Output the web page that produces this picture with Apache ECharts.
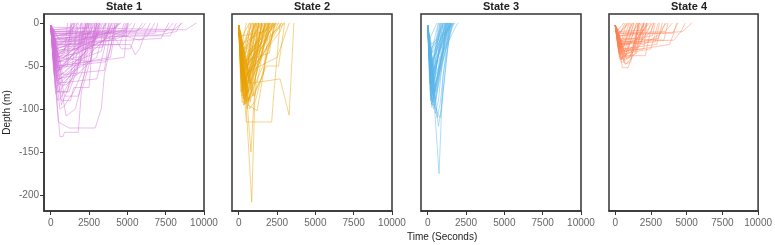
<!DOCTYPE html>
<html>
<head>
<meta charset="utf-8">
<script src="https://cdn.jsdelivr.net/npm/echarts@6/dist/echarts.min.js"></script>
<style>
    html, body { margin: 0; padding: 0; background: #fff; }
    #graph { width: 775px; height: 245px; }
</style>
</head>
<body>
<div id="graph"></div>
<script>
"use strict"

// dive profiles: [time (s), depth (m)]
const state1Dives = [
    [[0,-3],[200,-10],[1800,-8],[2000,0]],
    [[0,-3],[300,-15],[2200,-10],[2500,0]],
    [[0,-3],[250,-20],[2600,-12],[2800,0]],
    [[0,-3],[400,-25],[3000,-15],[3200,0]],
    [[0,-3],[350,-30],[3300,-12],[3600,0]],
    [[0,-3],[500,-35],[3800,-10],[4000,0]],
    [[0,-3],[450,-40],[4200,-8],[4400,0]],
    [[0,-3],[600,-45],[4600,-10],[4800,0]],
    [[0,-3],[300,-50],[1500,-30],[1700,0]],
    [[0,-3],[500,-55],[2000,-25],[2300,0]],
    [[0,-3],[700,-60],[2500,-30],[2700,0]],
    [[0,-3],[600,-65],[3000,-40],[3300,-20],[3500,0]],
    [[0,-3],[800,-70],[1900,-50],[2400,0]],
    [[0,-3],[500,-80],[1200,-80],[2100,-35],[2400,0]],
    [[0,-3],[900,-85],[1800,-85],[2500,-40],[3000,0]],
    [[0,-3],[700,-95],[1500,-60],[2000,0]],
    [[0,-3],[1000,-108],[1600,-100],[2200,-60],[2600,0]],
    [[0,-3],[600,-132],[800,-132],[900,-127],[1800,-127],[2000,-80],[2800,-30],[3000,0]],
    [[0,-3],[500,-115],[1200,-122],[2900,-122],[3300,-100],[3500,-60],[4000,-20],[4200,0]],
    [[0,-3],[400,-80],[1100,-80],[1400,-50],[1800,0]],
    [[0,-3],[200,-20],[5000,-15],[5400,-5],[5500,0]],
    [[0,-3],[400,-25],[5200,-25],[5500,-37],[5800,-30],[6200,-10],[6500,0]],
    [[0,-3],[300,-12],[6800,-12],[7000,0]],
    [[0,-3],[500,-18],[6000,-15],[7800,-15],[8200,0]],
    [[0,-3],[300,-10],[8000,-8],[8600,0]],
    [[0,-3],[200,-5],[8800,-8],[9500,0]],
    [[0,-3],[600,-20],[4200,-18],[4600,-30],[5200,-30],[5600,-10],[6000,0]],
    [[0,-3],[400,-45],[1000,-45],[1200,-20],[1400,0]],
    [[0,-3],[300,-35],[900,-35],[1100,0]],
    [[0,-3],[500,-40],[2600,-45],[2800,-20],[3000,0]],
    [[0,-3],[800,-60],[3500,-55],[3800,-20],[4100,0]],
    [[0,-3],[350,-30],[1300,-25],[1500,0]],
    [[0,-3],[700,-50],[3900,-40],[4300,0]],
    [[0,-3],[450,-65],[1700,-60],[2000,-20],[2200,0]],
    [[0,-3],[250,-28],[4500,-25],[4800,-10],[5000,0]],
    [[0,-3],[600,-72],[1000,-72],[2600,-45],[2900,0]],
    [[0,-3],[300,-15],[1200,-12],[1400,0]],
    [[0,-3],[350,-22],[2000,-20],[2100,0]],
    [[0,-3],[550,-33],[3400,-28],[3600,0]],
    [[0,-3],[400,-50],[4800,-40],[5000,0]],
    [[0,-3],[700,-90],[1300,-90],[1500,-75],[2500,-75],[2700,-30],[3200,0]],
    [[0,-3],[300,-40],[1800,-35],[2000,0]],
    [[0,-3],[250,-18],[3700,-15],[3900,0]],
    [[0,-3],[600,-55],[1100,-50],[1300,0]],
    [[0,-3],[200,-8],[2400,-6],[2600,0]],
    [[0,-3],[500,-25],[4000,-20],[4800,-15],[5000,-5],[5300,0]],
    [[0,-3],[450,-70],[3000,-65],[3500,-30],[3800,0]],
    [[0,-3],[200,-12],[7500,-10],[8000,0]],
    [[0,-3],[150,-40],[600,-35],[1500,-20],[2200,-8],[2400,0]],
    [[0,-3],[200,-60],[800,-50],[1800,-30],[2600,-10],[2900,0]],
    [[0,-3],[300,-75],[900,-65],[2000,-40],[3000,-15],[3300,0]],
    [[0,-3],[150,-30],[1000,-20],[1600,0]],
    [[0,-3],[250,-48],[1200,-35],[2400,-15],[2700,0]],
    [[0,-3],[200,-25],[1500,-18],[3000,-8],[3200,0]],
    [[0,-3],[350,-58],[1400,-42],[2800,-20],[3400,-5],[3700,0]],
    [[0,-3],[400,-68],[1600,-50],[3200,-25],[4200,-5],[4400,0]],
    [[0,-3],[180,-35],[2000,-22],[3800,-10],[4600,0]],
    [[0,-3],[120,-20],[900,-15],[1800,0]],
    [[0,-3],[220,-42],[700,-38],[1300,-15],[1600,0]],
    [[0,-3],[300,-52],[1100,-45],[1900,-25],[2300,0]],
    [[0,-3],[260,-62],[900,-58],[2200,-35],[3100,0]],
    [[0,-3],[320,-82],[700,-76],[1700,-50],[2800,-25],[3400,0]],
    [[0,-3],[100,-12],[3000,-12],[4300,-5],[4500,0]],
    [[0,-3],[150,-18],[2700,-15],[4900,-8],[5100,0]],
    [[0,-3],[200,-32],[2500,-28],[3500,-20],[4000,0]],
    [[0,-3],[400,-45],[2200,-38],[2500,0]],
    [[0,-3],[280,-38],[1600,-30],[2900,-20],[3100,0]],
    [[0,-3],[350,-26],[3600,-22],[4700,-12],[4900,0]],
    [[0,-3],[100,-8],[1200,-6],[1500,0]],
    [[0,-3],[450,-90],[600,-88],[1200,-70],[1900,-45],[2300,0]],
    [[0,-3],[600,-100],[900,-96],[1500,-80],[2100,-55],[2500,0]],
    [[0,-3],[250,-15],[4200,-12],[5800,-20],[6300,-15],[6800,0]],
    [[0,-3],[300,-10],[5500,-10],[6000,-5],[6200,0]],
    [[0,-3],[300,-22],[5000,-20],[7200,-18],[7700,0]],
    [[0,-3],[200,-14],[7000,-14],[8200,-10],[8500,0]],
    [[0,-3],[230,-55],[1000,-48],[3300,-33],[3800,0]],
    [[0,-3],[170,-45],[800,-40],[2600,-28],[2900,0]],
    [[0,-3],[380,-52],[3600,-45],[3900,-30],[4200,0]]
];
const state2Dives = [
    [[0,-3],[200,-60],[800,0]],
    [[0,-3],[300,-80],[1000,0]],
    [[0,-3],[250,-70],[1200,0]],
    [[0,-3],[400,-90],[1400,0]],
    [[0,-3],[350,-75],[1600,0]],
    [[0,-3],[500,-85],[1800,0]],
    [[0,-3],[450,-65],[2000,0]],
    [[0,-3],[600,-80],[2200,0]],
    [[0,-3],[300,-55],[2400,0]],
    [[0,-3],[700,-70],[2600,0]],
    [[0,-3],[500,-50],[2800,0]],
    [[0,-3],[400,-40],[3000,0]],
    [[0,-3],[150,-30],[900,0]],
    [[0,-3],[200,-45],[1100,0]],
    [[0,-3],[350,-95],[1300,0]],
    [[0,-3],[550,-100],[1500,0]],
    [[0,-3],[400,-70],[850,-208],[1100,-60],[1700,0]],
    [[0,-3],[500,-80],[800,-150],[1000,-90],[1900,0]],
    [[0,-3],[500,-115],[2150,-115],[2300,-80],[2700,0]],
    [[0,-3],[600,-95],[1200,-102],[1600,-60],[2200,0]],
    [[0,-3],[800,-70],[2700,-65],[3290,-107],[3600,0]],
    [[0,-3],[300,-60],[2500,-40],[3300,0]],
    [[0,-3],[1000,-85],[1800,-50],[2600,-50],[3000,0]],
    [[0,-3],[250,-35],[1500,0]],
    [[0,-3],[100,-20],[700,0]],
    [[0,-3],[450,-78],[1700,0]],
    [[0,-3],[650,-90],[2100,0]],
    [[0,-3],[200,-50],[1900,0]],
    [[0,-3],[380,-68],[2300,0]],
    [[0,-3],[150,-25],[2500,0]],
    [[0,-3],[700,-100],[1100,-90],[2400,0]],
    [[0,-3],[300,-88],[1200,0]],
    [[0,-3],[900,-85],[1600,-60],[2000,0]],
    [[0,-3],[550,-60],[1000,0]],
    [[0,-3],[400,-30],[600,-20],[800,0]],
    [[0,-3],[300,-72],[2800,0]],
    [[0,-3],[200,-15],[1700,-10],[2000,0]],
    [[0,-3],[500,-55],[1300,0]],
    [[0,-3],[750,-92],[1500,0]],
    [[0,-3],[350,-48],[2100,0]],
    [[0,-3],[180,-85],[600,-80],[1300,0]],
    [[0,-3],[120,-55],[700,0]],
    [[0,-3],[220,-92],[900,-85],[1700,0]],
    [[0,-3],[160,-65],[1100,0]],
    [[0,-3],[260,-82],[1900,0]],
    [[0,-3],[300,-95],[700,-90],[1500,0]],
    [[0,-3],[140,-45],[1400,0]],
    [[0,-3],[200,-75],[1600,-10],[1800,0]],
    [[0,-3],[250,-60],[2200,0]],
    [[0,-3],[100,-30],[1200,0]],
    [[0,-3],[320,-88],[1000,-70],[2000,0]],
    [[0,-3],[420,-94],[1100,0]],
    [[0,-3],[180,-40],[2600,0]],
    [[0,-3],[230,-68],[2700,-10],[2900,0]],
    [[0,-3],[280,-78],[800,-60],[1500,0]],
    [[0,-3],[350,-85],[1200,-40],[2300,0]],
    [[0,-3],[110,-35],[500,0]],
    [[0,-3],[500,-92],[900,-60],[1300,0]],
    [[0,-3],[160,-58],[1800,0]],
    [[0,-3],[240,-50],[1000,-30],[1600,0]],
    [[0,-3],[600,-90],[1700,-45],[2400,0]],
    [[0,-3],[380,-62],[1400,-40],[2000,0]],
    [[0,-3],[200,-70],[500,-65],[900,0]],
    [[0,-3],[150,-80],[1000,0]],
    [[0,-3],[300,-45],[2000,-35],[2300,0]]
];
const state3Dives = [
    [[0,-3],[150,-40],[700,0]],
    [[0,-3],[200,-60],[900,0]],
    [[0,-3],[250,-80],[1100,0]],
    [[0,-3],[300,-95],[500,-95],[1200,0]],
    [[0,-3],[200,-70],[1300,0]],
    [[0,-3],[350,-85],[1400,0]],
    [[0,-3],[400,-100],[1500,0]],
    [[0,-3],[300,-50],[1600,0]],
    [[0,-3],[300,-60],[740,-175],[1000,-60],[1600,0]],
    [[0,-3],[500,-105],[700,-90],[1200,0]],
    [[0,-3],[150,-30],[1800,0]],
    [[0,-3],[450,-75],[1700,0]],
    [[0,-3],[250,-45],[1000,0]],
    [[0,-3],[350,-65],[800,0]],
    [[0,-3],[600,-110],[800,-95],[1400,0]],
    [[0,-3],[100,-20],[600,0]],
    [[0,-3],[400,-55],[1900,-2],[2000,0]],
    [[0,-3],[200,-90],[1000,0]],
    [[0,-3],[550,-80],[1300,0]],
    [[0,-3],[300,-35],[1500,0]],
    [[0,-3],[700,-120],[900,-100],[1450,0]],
    [[0,-3],[450,-60],[1150,0]],
    [[0,-3],[250,-25],[1700,0]],
    [[0,-3],[180,-50],[1250,0]],
    [[0,-3],[500,-90],[1350,0]],
    [[0,-3],[120,-70],[800,0]],
    [[0,-3],[180,-90],[400,-92],[1100,0]],
    [[0,-3],[250,-95],[1300,0]],
    [[0,-3],[140,-55],[1200,0]],
    [[0,-3],[220,-88],[1500,0]],
    [[0,-3],[160,-65],[1450,0]],
    [[0,-3],[280,-98],[900,0]],
    [[0,-3],[110,-40],[1100,0]],
    [[0,-3],[330,-90],[1600,0]],
    [[0,-3],[200,-78],[700,0]],
    [[0,-3],[260,-60],[1350,0]],
    [[0,-3],[300,-82],[1000,0]],
    [[0,-3],[400,-95],[800,-110],[1000,-80],[1500,0]],
    [[0,-3],[150,-48],[1550,0]],
    [[0,-3],[230,-72],[1200,0]],
    [[0,-3],[350,-70],[1650,0]],
    [[0,-3],[190,-85],[850,0]],
    [[0,-3],[420,-88],[1250,0]],
    [[0,-3],[130,-35],[1000,0]],
    [[0,-3],[270,-93],[1400,0]]
];
const state4Dives = [
    [[0,-3],[300,-30],[1000,0]],
    [[0,-3],[400,-35],[1200,0]],
    [[0,-3],[500,-40],[1400,-30],[1600,0]],
    [[0,-3],[600,-45],[1800,-25],[2000,0]],
    [[0,-3],[500,-52],[900,-52],[1300,-30],[2200,0]],
    [[0,-3],[200,-15],[1500,-12],[1700,0]],
    [[0,-3],[250,-10],[2300,-8],[2500,0]],
    [[0,-3],[350,-20],[2600,-15],[2800,0]],
    [[0,-3],[450,-25],[2800,-22],[3100,0]],
    [[0,-3],[700,-38],[2100,-38],[2400,-15],[2700,0]],
    [[0,-3],[300,-18],[3400,-20],[3700,0]],
    [[0,-3],[400,-12],[4000,-12],[4400,0]],
    [[0,-3],[500,-22],[4100,-20],[4600,-10],[4900,0]],
    [[0,-3],[300,-15],[4700,-10],[5370,0]],
    [[0,-3],[600,-28],[1100,0]],
    [[0,-3],[800,-42],[1500,-35],[1900,0]],
    [[0,-3],[350,-25],[800,0]],
    [[0,-3],[200,-8],[600,0]],
    [[0,-3],[450,-32],[1300,-28],[2000,0]],
    [[0,-3],[700,-48],[1100,-45],[1600,0]],
    [[0,-3],[300,-20],[2000,-25],[3200,-12],[3500,0]],
    [[0,-3],[550,-36],[2500,-30],[3000,0]],
    [[0,-3],[250,-12],[900,0]],
    [[0,-3],[400,-28],[1700,0]],
    [[0,-3],[650,-40],[2300,0]],
    [[0,-3],[150,-20],[500,-25],[1200,0]],
    [[0,-3],[200,-28],[900,-30],[1500,0]],
    [[0,-3],[250,-35],[700,-38],[1300,0]],
    [[0,-3],[300,-42],[1000,-40],[1800,0]],
    [[0,-3],[180,-22],[1000,-25],[2100,0]],
    [[0,-3],[220,-30],[1400,-20],[2400,0]],
    [[0,-3],[350,-38],[600,-44],[1500,0]],
    [[0,-3],[400,-45],[800,-47],[1400,-35],[2000,0]],
    [[0,-3],[120,-15],[1000,0]],
    [[0,-3],[260,-25],[1900,-18],[2200,0]],
    [[0,-3],[300,-33],[1200,-30],[2500,-10],[2700,0]],
    [[0,-3],[500,-30],[2900,-25],[3300,0]],
    [[0,-3],[320,-40],[1100,-38],[1700,0]],
    [[0,-3],[170,-18],[700,0]],
    [[0,-3],[280,-36],[1600,-28],[2600,0]],
    [[0,-3],[450,-43],[1300,0]],
    [[0,-3],[230,-26],[3000,-18],[3300,-5],[3600,0]],
    [[0,-3],[380,-34],[3800,-25],[4100,-12],[4300,0]],
    [[0,-3],[200,-12],[3500,-10],[4000,0]],
    [[0,-3],[600,-32],[2000,-30],[2200,0]]
];
const stateNames = ["State 1", "State 2", "State 3", "State 4"];
const stateColors = ["#D070D6", "#E69F00", "#56B4E9", "#FF7F50"];
const xTicks = [0, 2500, 5000, 7500, 10000];
const yTicks = [0, -50, -100, -150, -200];

const allDives = [state1Dives, state2Dives, state3Dives, state4Dives];
const panelLeft = [44, 232, 421, 609];
const panelW = 160, panelTop = 14, panelH = 197;
const fontFam = "Liberation Sans, Arial, sans-serif";

const grids = panelLeft.map(l => ({
    left: l, top: panelTop, width: panelW, height: panelH,
    show: true, borderColor: "#333", borderWidth: 1.5, backgroundColor: "#fff"
}));

const xAxes = panelLeft.map((l, i) => ({
    type: "value", gridIndex: i, min: -437, max: 10000,
    axisLine: { show: true, onZero: false, lineStyle: { color: "#333", width: 1.5 } },
    axisTick: { show: true, length: 4, customValues: xTicks, lineStyle: { color: "#333" } },
    axisLabel: { customValues: xTicks, formatter: v => String(v), color: "#666", fontSize: 10, fontFamily: fontFam, margin: 7 },
    splitLine: { show: false }
}));

const yAxes = panelLeft.map((l, i) => ({
    type: "value", gridIndex: i, min: -218.4, max: 10.4,
    name: i == 0 ? "Depth (m)" : "",
    nameLocation: "middle", nameGap: 32,
    nameTextStyle: { color: "#222", fontSize: 10, fontFamily: fontFam },
    axisLine: { show: i == 0, onZero: false, lineStyle: { color: "#333", width: 1.5 } },
    axisTick: { show: i == 0, length: 4, customValues: yTicks, lineStyle: { color: "#333" } },
    axisLabel: { show: i == 0, customValues: yTicks, formatter: v => String(v), color: "#666", fontSize: 10, fontFamily: fontFam, margin: 5 },
    splitLine: { show: false }
}));

const series = [];
allDives.forEach((dives, i) =>
{
    dives.forEach(d =>
    {
        series.push({
            type: "line", xAxisIndex: i, yAxisIndex: i, data: d,
            showSymbol: false, silent: true,
            lineStyle: { color: stateColors[i], width: 1, opacity: 0.45 }
        });
    });
});

const titles = stateNames.map((s, i) => ({
    text: s, left: panelLeft[i] + panelW / 2, top: 1, padding: 0, textAlign: "center",
    textStyle: { fontSize: 11, fontWeight: "bold", color: "#222", fontFamily: fontFam }
}));

const myChart = echarts.init(document.getElementById("graph"), null, { renderer: "canvas" });
myChart.setOption({
    animation: false,
    title: titles,
    grid: grids,
    xAxis: xAxes,
    yAxis: yAxes,
    series: series,
    graphic: [{
        type: "text", left: 407, top: 232,
        style: { text: "Time (Seconds)", fill: "#222", fontSize: 10, fontFamily: fontFam, align: "center" }
    }]
});
</script>
</body>
</html>
